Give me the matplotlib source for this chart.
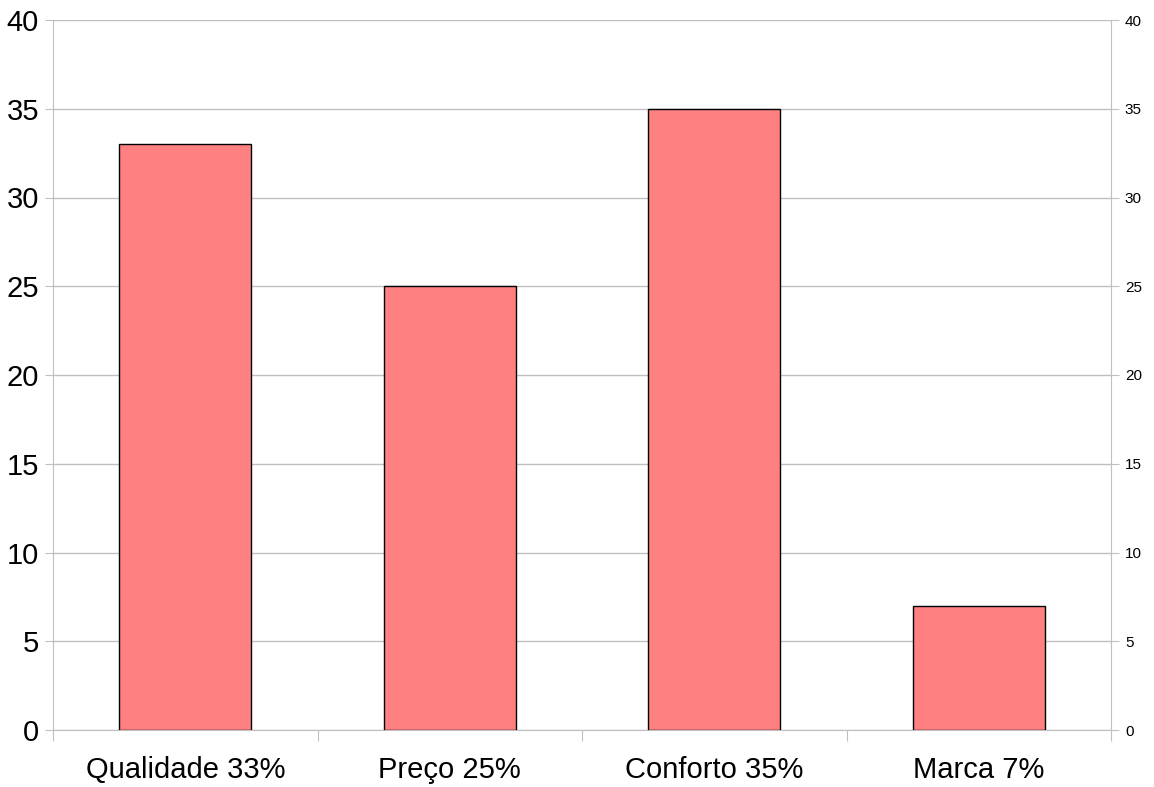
import matplotlib.pyplot as plt
import numpy as np

categories = ["Qualidade 33%", "Preço 25%", "Conforto 35%", "Marca 7%"]
values = [33, 25, 35, 7]
yticks = [0, 5, 10, 15, 20, 25, 30, 35, 40]

plt.rcParams['font.family'] = ['Liberation Sans Narrow', 'Liberation Sans', 'DejaVu Sans']

fig = plt.figure(figsize=(11.54, 7.87), dpi=100)
ax = fig.add_axes([53 / 1154, 1 - 730 / 787, 1058 / 1154, 710 / 787])

x = np.arange(len(categories))
ax.bar(x, values, width=0.5, color='#ff8080', edgecolor='black', linewidth=1, zorder=3)

ax.set_xlim(-0.5, len(categories) - 0.5)
ax.set_ylim(0, 40)
ax.set_yticks(yticks)
ax.yaxis.grid(True, color='#c0c0c0', linewidth=1, zorder=0)

ax.spines['top'].set_visible(False)
for s in ['left', 'right', 'bottom']:
    ax.spines[s].set_color('#c0c0c0')

# category boundaries get the ticks, names sit between them
ax.set_xticks(np.arange(-0.5, len(categories), 1.0))
ax.set_xticklabels([])
ax.set_xticks(x, minor=True)
ax.set_xticklabels(categories, minor=True, fontsize=21)
ax.tick_params(axis='x', which='major', length=8, color='#c0c0c0')
ax.tick_params(axis='x', which='minor', length=0, pad=19)
ax.tick_params(axis='y', length=6, color='#c0c0c0', labelsize=21, pad=4)

ax2 = ax.twinx()
ax2.set_ylim(0, 40)
ax2.set_yticks(yticks)
ax2.tick_params(axis='y', length=6, color='#c0c0c0', labelsize=11, pad=4)
for s in ax2.spines.values():
    s.set_visible(False)

fig.savefig('out.png', dpi=100)
